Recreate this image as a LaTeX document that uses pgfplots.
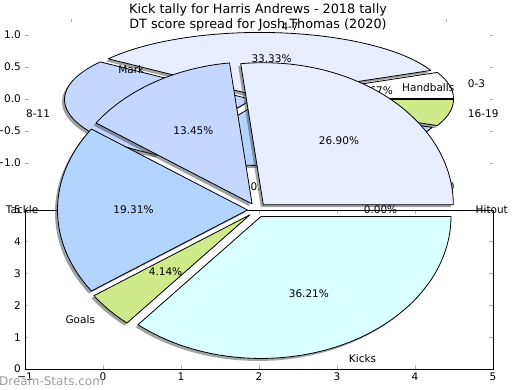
\documentclass[border=0pt]{standalone}
\usepackage{fontspec}
\setmainfont{DejaVu Sans}
\usepackage{pgfplots}
\pgfplotsset{compat=1.18}
\definecolor{cA}{HTML}{FFFFFF}
\definecolor{cB}{HTML}{E8EEFF}
\definecolor{cC}{HTML}{C4D8FF}
\definecolor{cD}{HTML}{B3D4FF}
\definecolor{cE}{HTML}{D0E98A}
\definecolor{cF}{HTML}{D9FFFF}
% pie B (DT score spread): centre (0,0) of the upper axis, rx=187.2bp, ry=64bp, explode 0.04
\newcommand\shadowB[4]{\fill[#4!30!black, opacity=0.5] ([shift={(#3:7.49bp and 2.56bp)}, xshift=-2.5bp, yshift=-2.5bp]axis cs:0,0) -- ++(#1:187.2bp and 64bp) arc[start angle=#1, end angle=#2, x radius=187.2bp, y radius=64bp] -- cycle;}
\newcommand\sliceB[4]{\filldraw[fill=#4, draw=black, line width=0.8bp, line join=round] ([shift={(#3:7.49bp and 2.56bp)}]axis cs:0,0) -- ++(#1:187.2bp and 64bp) arc[start angle=#1, end angle=#2, x radius=187.2bp, y radius=64bp] -- cycle;}
% pie A (Kick tally): centre (1.9744,5) of the lower axis, rx=190bp, ry=142bp, explode 0.05
\newcommand\shadowA[4]{\fill[#4!30!black, opacity=0.5] ([shift={(#3:9.5bp and 7.1bp)}, xshift=-2.5bp, yshift=-2.5bp]axis cs:1.9744,5) -- ++(#1:190bp and 142bp) arc[start angle=#1, end angle=#2, x radius=190bp, y radius=142bp] -- cycle;}
\newcommand\sliceA[4]{\filldraw[fill=#4, draw=black, line width=0.8bp, line join=round] ([shift={(#3:9.5bp and 7.1bp)}]axis cs:1.9744,5) -- ++(#1:190bp and 142bp) arc[start angle=#1, end angle=#2, x radius=190bp, y radius=142bp] -- cycle;}
\tikzset{lbl/.style={inner sep=0pt, font=\fontsize{10.5bp}{12bp}\selectfont}}
\pgfplotsset{mystyle/.style={scale only axis, width=468bp, clip=false, anchor=south west,
  tick align=inside, major tick length=3.5bp, tick style={black!30, line width=0.8bp},
  every tick label/.append style={font=\fontsize{10.5bp}{12bp}\selectfont, inner sep=0pt},
  xticklabel style={yshift=-4bp}, yticklabel style={xshift=-4bp}}}
\begin{document}
\begin{tikzpicture}
\path[use as bounding box] (0,0) rectangle (520bp,390bp);
% ---------------- upper axis: DT score spread for Josh Thomas (2020)
\begin{axis}[mystyle, at={(25bp,211bp)}, height=160bp,
  xmin=-1.25, xmax=1.25, ymin=-1.25, ymax=1.25, axis line style={draw=none},
  xtick={-1,-0.5,0,0.5,1}, xticklabels={−1.0,−0.5,0.0,0.5,1.0},
  ytick={-1,-0.5,0,0.5,1}, yticklabels={−1.0,−0.5,0.0,0.5,1.0}]
% counts 1,5,4,4,1 of 15
\shadowB{0}{24}{12}{cA}
\shadowB{24}{144}{84}{cB}
\shadowB{144}{240}{192}{cC}
\shadowB{240}{336}{288}{cD}
\shadowB{336}{360}{348}{cE}
\sliceB{0}{24}{12}{cA}
\sliceB{24}{144}{84}{cB}
\sliceB{144}{240}{192}{cC}
\sliceB{240}{336}{288}{cD}
\sliceB{336}{360}{348}{cE}
\node[lbl, anchor=west] at ([shift={(12:213.4bp and 73bp)}]axis cs:0,0) {0-3};
\node[lbl, anchor=west] at ([shift={(84:213.4bp and 73bp)}]axis cs:0,0) {4-7};
\node[lbl, anchor=east] at ([shift={(192:213.4bp and 73bp)}]axis cs:0,0) {8-11};
\node[lbl, anchor=west] at ([shift={(288:213.4bp and 73bp)}]axis cs:0,0) {12-15};
\node[lbl, anchor=west] at ([shift={(348:213.4bp and 73bp)}]axis cs:0,0) {16-19};
\node[lbl] at ([shift={(12:119.8bp and 41bp)}]axis cs:0,0) {6.67\%};
\node[lbl] at ([shift={(84:119.8bp and 41bp)}]axis cs:0,0) {33.33\%};
\node[lbl] at ([shift={(192:119.8bp and 41bp)}]axis cs:0,0) {26.67\%};
\node[lbl] at ([shift={(288:119.8bp and 41bp)}]axis cs:0,0) {26.67\%};
\node[lbl] at ([shift={(348:119.8bp and 41bp)}]axis cs:0,0) {6.67\%};
\end{axis}
% ---------------- lower axis: Kick tally for Harris Andrews - 2018 tally
\begin{axis}[mystyle, at={(25bp,21bp)}, height=159bp,
  xmin=-1, xmax=5, ymin=0, ymax=5, axis line style={black, line width=0.8bp},
  axis background/.style={fill=white},
  xtick={-1,0,1,2,3,4,5}, xticklabels={−1,0,1,2,3,4,5},
  ytick={0,1,2,3,4,5}, yticklabels={0,1,2,3,4,5}]
% counts: Hitout 0, Handballs 78, Mark 39, Tackle 56, Goals 12, Kicks 105 (of 290)
\shadowA{0}{96.83}{48.41}{cB}
\shadowA{96.83}{145.24}{121.03}{cC}
\shadowA{145.24}{214.76}{180}{cD}
\shadowA{214.76}{229.66}{222.21}{cE}
\shadowA{229.66}{360}{294.83}{cF}
\sliceA{0}{96.83}{48.41}{cB}
\sliceA{96.83}{145.24}{121.03}{cC}
\sliceA{145.24}{214.76}{180}{cD}
\sliceA{214.76}{229.66}{222.21}{cE}
\sliceA{229.66}{360}{294.83}{cF}
\node[lbl, anchor=west] at ([shift={(0:218.5bp and 163.3bp)}]axis cs:1.9744,5) {Hitout};
\node[lbl, anchor=west] at ([shift={(48.41:218.5bp and 163.3bp)}]axis cs:1.9744,5) {Handballs};
\node[lbl, anchor=east] at ([shift={(121.03:218.5bp and 163.3bp)}]axis cs:1.9744,5) {Mark};
\node[lbl, anchor=east] at ([shift={(180:218.5bp and 163.3bp)}]axis cs:1.9744,5) {Tackle};
\node[lbl, anchor=east] at ([shift={(222.21:218.5bp and 163.3bp)}]axis cs:1.9744,5) {Goals};
\node[lbl, anchor=west] at ([shift={(294.83:218.5bp and 163.3bp)}]axis cs:1.9744,5) {Kicks};
\node[lbl] at ([shift={(0:123.5bp and 92.3bp)}]axis cs:1.9744,5) {0.00\%};
\node[lbl] at ([shift={(48.41:123.5bp and 92.3bp)}]axis cs:1.9744,5) {26.90\%};
\node[lbl] at ([shift={(121.03:123.5bp and 92.3bp)}]axis cs:1.9744,5) {13.45\%};
\node[lbl] at ([shift={(180:123.5bp and 92.3bp)}]axis cs:1.9744,5) {19.31\%};
\node[lbl] at ([shift={(222.21:123.5bp and 92.3bp)}]axis cs:1.9744,5) {4.14\%};
\node[lbl] at ([shift={(294.83:123.5bp and 92.3bp)}]axis cs:1.9744,5) {36.21\%};
\end{axis}
\node[font=\fontsize{12.8bp}{15bp}\selectfont, inner sep=0pt] at (258bp,380bp) {Kick tally for Harris Andrews - 2018 tally};
\node[font=\fontsize{12.8bp}{15bp}\selectfont, inner sep=0pt] at (258bp,365bp) {DT score spread for Josh Thomas (2020)};
\node[font=\fontsize{12bp}{14bp}\selectfont, text=black!38, anchor=west, inner sep=0pt] at (-1bp,9bp) {Dream-Stats.com};
\end{tikzpicture}
\end{document}
